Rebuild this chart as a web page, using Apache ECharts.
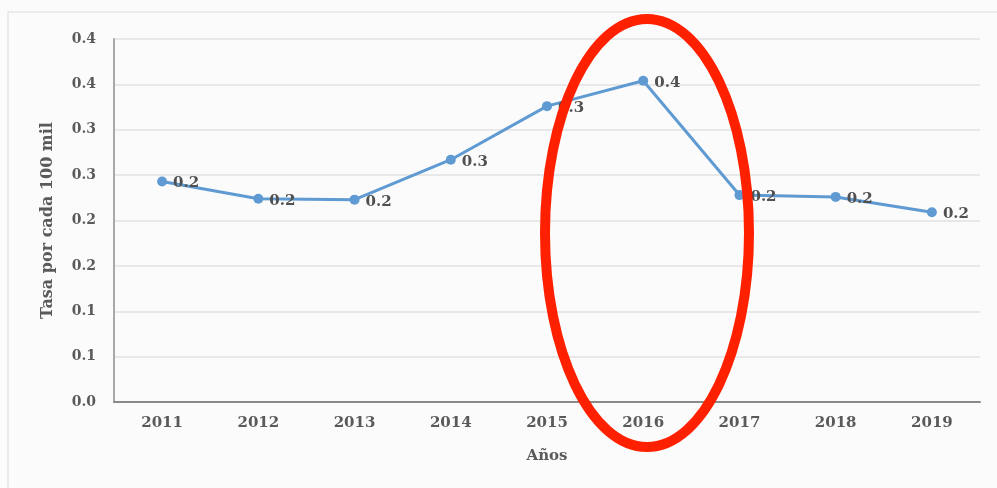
<!DOCTYPE html>
<html>
<head>
<meta charset="utf-8">
<script src="https://cdn.jsdelivr.net/npm/echarts@6/dist/echarts.min.js"></script>
<style>
  html, body { margin: 0; padding: 0; background: #fbfbfb; }
  #chart { width: 997px; height: 488px; }
</style>
</head>
<body>
<div id="chart"></div>
<script>
var years = ['2011', '2012', '2013', '2014', '2015', '2016', '2017', '2018', '2019'];
var tasa = [0.243, 0.224, 0.223, 0.267, 0.326, 0.354, 0.228, 0.226, 0.209];
var yTickLabels = ['0.0', '0.1', '0.1', '0.2', '0.2', '0.3', '0.3', '0.4', '0.4'];

var chart = echarts.init(document.getElementById('chart'));
var font = '"DejaVu Serif", "Liberation Serif", serif';

var option = {
    backgroundColor: '#fbfbfb',
    animation: false,
    grid: { left: 114, right: 17, top: 39, bottom: 86 },
    xAxis: {
        type: 'category',
        data: years,
        boundaryGap: true,
        name: 'Años',
        nameLocation: 'middle',
        nameGap: 47,
        nameTextStyle: { fontFamily: font, fontWeight: 'bold', fontSize: 15, color: '#5a5a5a' },
        axisLine: { lineStyle: { color: '#8a8a8a', width: 2 } },
        axisTick: { show: false },
        axisLabel: { fontFamily: font, fontWeight: 'bold', fontSize: 15, color: '#5a5a5a', margin: 14 }
    },
    yAxis: {
        type: 'value',
        min: 0,
        max: 0.4,
        interval: 0.05,
        name: 'Tasa por cada 100 mil',
        nameLocation: 'middle',
        nameGap: 58,
        nameTextStyle: { fontFamily: font, fontWeight: 'bold', fontSize: 16, color: '#5a5a5a' },
        axisLine: { show: true, lineStyle: { color: '#a8a8a8', width: 2 } },
        axisTick: { show: false },
        splitLine: { lineStyle: { color: '#e2e2e2', width: 1.5 } },
        axisLabel: {
            fontFamily: font, fontWeight: 'bold', fontSize: 14, color: '#5a5a5a', margin: 18,
            formatter: function (v) {
                return yTickLabels[Math.round(v / 0.05)];
            }
        }
    },
    series: [{
        type: 'line',
        data: tasa,
        symbol: 'circle',
        symbolSize: 10,
        itemStyle: { color: '#5f9bd2' },
        lineStyle: { color: '#5f9bd2', width: 3 },
        label: {
            show: true,
            position: 'right',
            distance: 6,
            offset: [0, 2],
            fontFamily: font,
            fontWeight: 'bold',
            fontSize: 15,
            color: '#505050',
            formatter: function (p) { return p.value.toFixed(1); }
        }
    }],
    graphic: [{
        type: 'rect',
        shape: { x: 8, y: 12, width: 1000, height: 490 },
        style: { fill: 'none', stroke: '#e6e6e6', lineWidth: 1.5 },
        z: -1
    }, {
        type: 'ellipse',
        shape: { cx: 647, cy: 233, rx: 102, ry: 214 },
        style: { fill: 'none', stroke: '#ff2000', lineWidth: 10 },
        z: 100
    }]
};
chart.setOption(option);
window.addEventListener('resize', chart.resize);
</script>
</body>
</html>
